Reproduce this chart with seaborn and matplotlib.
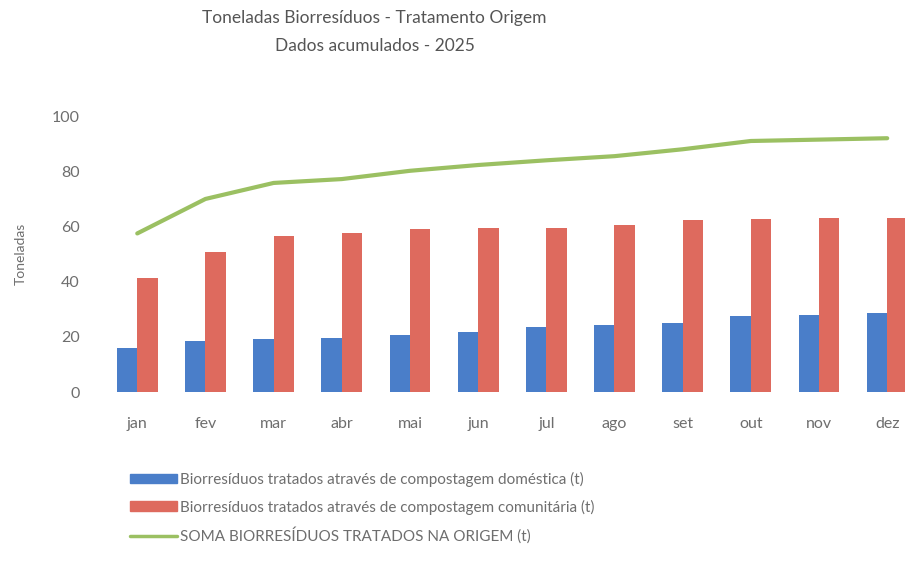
import matplotlib
matplotlib.use("Agg")
import matplotlib.pyplot as plt
import matplotlib.patches as mpatches
import matplotlib.lines as mlines
import seaborn as sns
import pandas as pd

# Values (tonnes, cumulative 2025)
meses = ["jan", "fev", "mar", "abr", "mai", "jun", "jul", "ago", "set", "out", "nov", "dez"]
domestica = [16.0, 18.6, 19.1, 19.7, 20.7, 21.8, 23.7, 24.5, 25.1, 27.5, 27.9, 28.7]
comunitaria = [41.2, 50.6, 56.6, 57.5, 59.1, 59.5, 59.5, 60.5, 62.3, 62.9, 63.2, 63.2]
soma = [57.5, 70.0, 75.8, 77.2, 80.2, 82.3, 84.0, 85.5, 88.0, 91.0, 91.5, 92.0]

lab_dom = "Biorresíduos tratados através de compostagem doméstica (t)"
lab_com = "Biorresíduos tratados através de compostagem comunitária (t)"
lab_soma = "SOMA BIORRESÍDUOS TRATADOS NA ORIGEM (t)"

cor_dom = "#4A7EC9"
cor_com = "#DE6A5E"
cor_soma = "#9BC062"
cinza = "#6E6E6E"

sns.set_style("white")
plt.rcParams["font.family"] = ["Lato", "DejaVu Sans"]

df = pd.DataFrame({"mes": meses * 2,
                   "valor": domestica + comunitaria,
                   "serie": [lab_dom] * len(meses) + [lab_com] * len(meses)})

fig = plt.figure(figsize=(9.05, 5.75), dpi=100)
ax = fig.add_axes([0.114, 0.318, 0.904, 0.48])

sns.barplot(data=df, x="mes", y="valor", hue="serie", order=meses,
            palette=[cor_dom, cor_com], width=0.6, saturation=1,
            linewidth=0, gap=0, legend=False, ax=ax)
sns.pointplot(x=meses, y=soma, order=meses, color=cor_soma, markers="",
              linewidth=3, errorbar=None, ax=ax)

ax.set_ylim(0, 100)
ax.set_yticks(range(0, 101, 20))
ax.set_xlim(-0.5, 11.5)
ax.set_xlabel("")
ax.set_ylabel("Toneladas", color=cinza, fontsize=10, labelpad=18)
ax.tick_params(axis="both", length=0, labelsize=11.5, labelcolor=cinza)
ax.tick_params(axis="y", pad=17)
ax.tick_params(axis="x", pad=18)
for s in ax.spines.values():
    s.set_visible(False)

fig.text(0.414, 0.968, "Toneladas Biorresíduos - Tratamento Origem",
         ha="center", va="center", fontsize=12.5, color="#555555")
fig.text(0.414, 0.920, "Dados acumulados - 2025",
         ha="center", va="center", fontsize=12.5, color="#555555")

handles = [mpatches.Patch(color=cor_dom, label=lab_dom),
           mpatches.Patch(color=cor_com, label=lab_com),
           mlines.Line2D([], [], color=cor_soma, linewidth=2.5, label=lab_soma)]
fig.legend(handles=handles, loc="upper left", bbox_to_anchor=(0.137, 0.19),
           frameon=False, fontsize=11, labelcolor=cinza, handlelength=3.1,
           handleheight=0.6, handletextpad=0.15, labelspacing=0.82,
           borderaxespad=0)

fig.savefig("out.png", dpi=100)
